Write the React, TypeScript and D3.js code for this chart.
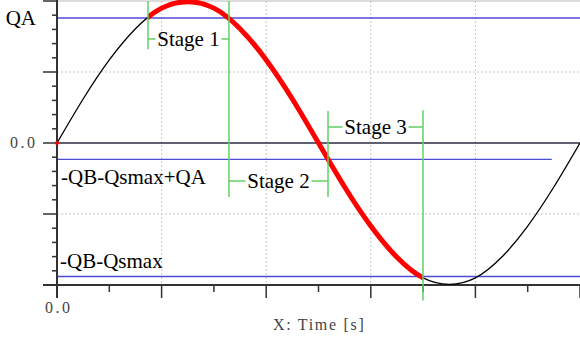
import React from "react";
import * as d3 from "d3";

// curve samples (time in s, value)
const sampleT = [0, 0.25, 0.5, 0.75, 1, 1.25, 1.5, 1.75, 2, 2.25, 2.5, 2.75, 3, 3.25, 3.5, 3.75, 4, 4.25, 4.5, 4.75, 5];
const sampleQ = [0, 0.62, 1.17, 1.61, 1.9, 1.99, 1.9, 1.61, 1.17, 0.62, 0, -0.62, -1.17, -1.61, -1.9, -1.99, -1.9, -1.61, -1.17, -0.62, 0];

// reference levels
const levelNames = ["QA", "-QB-Qsmax+QA", "-QB-Qsmax"];
const levelValues = [1.76, -0.23, -1.88];
const levelEnds = [5, 4.73, 5];

// stage boundaries (time)
const stageBounds = [0.87, 1.644, 2.591, 3.499];
const stageNames = ["Stage 1", "Stage 2", "Stage 3"];
const stageY = [1.465, -0.535, 0.225];

const xMajor = [0, 1, 2, 3, 4, 5];
const xMinor = [0.5, 1.5, 2.5, 3.5, 4.5];
const yMajor = [-2, -1, 0, 1, 2];
const yMinor = [-1.8, -1.6, -1.4, -1.2, -0.8, -0.6, -0.4, -0.2, 0.2, 0.4, 0.6, 0.8, 1.2, 1.4, 1.6, 1.8];

const W = 580, H = 338;

export default function App() {
    const x = d3.scaleLinear().domain([0, 5]).range([57, 580]);
    const y = d3.scaleLinear().domain([-2, 2]).range([285, 1]);

    const pts: [number, number][] = sampleT.map((t, i) => [t, sampleQ[i]]);
    const line = d3.line<[number, number]>()
        .x(d => x(d[0]))
        .y(d => y(d[1]))
        .curve(d3.curveNatural);
    const path = line(pts) || "";

    const serif = "'Liberation Serif', 'Times New Roman', serif";
    const green = "#63cf63";
    const blue = "#4b4bd6";

    // vertical green markers: [t, from, to]
    const markers: [number, number, number][] = [
        [stageBounds[0], 2, 1.32],
        [stageBounds[1], 2, -0.76],
        [stageBounds[2], 0.45, -0.76],
        [stageBounds[3], 0.46, -2.22],
    ];

    return (
        <svg width={W} height={H} style={{position: "absolute", left: 0, top: 0, background: "#fff"}}>
            <defs>
                <clipPath id="redClip">
                    <rect x={x(stageBounds[0])} y={0} width={x(stageBounds[3]) - x(stageBounds[0])} height={H} />
                </clipPath>
            </defs>

            {/* grid */}
            <line x1={x(0)} x2={x(5)} y1={y(2)} y2={y(2)} stroke="#dcdcdc" strokeWidth={2} />
            {[1, 2, 3, 4].map(t => (
                <line key={"gx" + t} x1={x(t)} x2={x(t)} y1={y(2)} y2={y(-2)} stroke="#c8c8c8" strokeDasharray="2,2" />
            ))}
            {[-1, 1].map(v => (
                <line key={"gy" + v} x1={x(0)} x2={x(5)} y1={y(v)} y2={y(v)} stroke="#c8c8c8" strokeDasharray="2,2" />
            ))}

            {/* reference lines */}
            {levelValues.map((v, i) => (
                <line key={"lv" + i} x1={x(0)} x2={x(levelEnds[i])} y1={y(v)} y2={y(v)} stroke={blue} strokeWidth={1.4} />
            ))}
            <line x1={x(0)} x2={x(5)} y1={y(0)} y2={y(0)} stroke="#2b2b44" strokeWidth={1.6} />

            {/* axes */}
            <line x1={x(0)} x2={x(0)} y1={0} y2={y(-2) + 13} stroke="#333" strokeWidth={2} />
            <line x1={x(0) - 14} x2={x(5)} y1={y(-2)} y2={y(-2)} stroke="#333" strokeWidth={2} />
            {yMajor.map(v => (
                <line key={"ym" + v} x1={x(0) - 14} x2={x(0)} y1={y(v)} y2={y(v)} stroke="#333" strokeWidth={1.5} />
            ))}
            {yMinor.map(v => (
                <line key={"yn" + v} x1={x(0) - 5} x2={x(0)} y1={y(v)} y2={y(v)} stroke="#333" strokeWidth={1.5} />
            ))}
            {xMajor.map(t => (
                <line key={"xm" + t} x1={x(t)} x2={x(t)} y1={y(-2)} y2={y(-2) + 13} stroke="#333" strokeWidth={1.5} />
            ))}
            {xMinor.map(t => (
                <line key={"xn" + t} x1={x(t)} x2={x(t)} y1={y(-2)} y2={y(-2) + 7} stroke="#333" strokeWidth={1.5} />
            ))}
            <text x={10} y={y(0) + 5} fontFamily={serif} fontSize={16} letterSpacing={2.5} fill="#444">0.0</text>
            <text x={45} y={y(-2) + 28} fontFamily={serif} fontSize={16} letterSpacing={2.5} fill="#444">0.0</text>
            <text x={273} y={330} fontFamily={serif} fontSize={16} letterSpacing={1.7} fill="#444">X: Time [s]</text>

            {/* curve */}
            <path d={path} fill="none" stroke="#000" strokeWidth={1.3} />
            <path d={path} fill="none" stroke="#ff0000" strokeWidth={5} clipPath="url(#redClip)" />
            <circle cx={x(0)} cy={y(0)} r={2} fill="#ff0000" />

            {/* stage markers */}
            {markers.map((m, i) => (
                <line key={"mk" + i} x1={x(m[0])} x2={x(m[0])} y1={y(m[1])} y2={y(m[2])} stroke={green} strokeWidth={1.5} />
            ))}
            {stageNames.map((s, i) => {
                const a = x(stageBounds[i]), b = x(stageBounds[i + 1]);
                const c = (a + b) / 2;
                const yy = y(stageY[i]);
                return (
                    <g key={s}>
                        <line x1={a} x2={c - 33} y1={yy} y2={yy} stroke={green} strokeWidth={1.5} />
                        <line x1={c + 33} x2={b} y1={yy} y2={yy} stroke={green} strokeWidth={1.5} />
                        <text x={c} y={yy + 7} textAnchor="middle" fontFamily={serif} fontSize={21} fill="#000">{s}</text>
                    </g>
                );
            })}

            {/* level labels */}
            <text x={36} y={25} textAnchor="end" fontFamily={serif} fontSize={21} fill="#000">{levelNames[0]}</text>
            <text x={61} y={184} fontFamily={serif} fontSize={21} fill="#000">{levelNames[1]}</text>
            <text x={60} y={268} fontFamily={serif} fontSize={21} fill="#000">{levelNames[2]}</text>
        </svg>
    );
}
